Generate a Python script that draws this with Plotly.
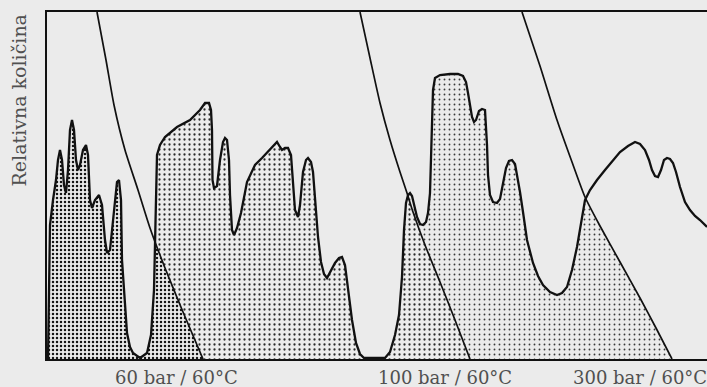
import plotly.graph_objects as go

# ---------------- data (arbitrary time units / relative amount units) ----------------
T_MAX = 660
Y_MAX = 347

sig_t = [1, 2, 3, 6, 9, 11, 13, 15, 17, 19, 21, 23, 25, 27, 29, 31, 33, 36, 39, 41, 43, 45, 48, 52,
         55, 58, 60, 63, 67, 70, 72, 74, 75, 78, 80, 83, 86, 93, 100, 104, 107, 108, 109, 110, 113,
         118, 130, 143, 153, 158, 162, 164, 165, 165.5, 167, 170, 173, 176, 178, 180, 182, 183, 185,
         187, 190, 194, 200, 208, 215, 221, 226, 230, 233, 235, 238, 241, 244, 246, 248, 251, 253,
         256, 259, 261, 264, 266, 269, 271, 274, 277, 280, 284, 288, 292, 295, 298, 301, 305, 309,
         313, 317, 338, 343, 348, 352, 355, 357, 359, 361, 363, 365, 367, 370, 373, 376, 379, 381,
         383, 384, 385, 386, 388, 393, 403, 411, 416, 419, 421, 423, 425, 427, 429, 432, 435, 438,
         439, 440, 441, 443, 446, 450, 453, 456, 459, 462, 465, 468, 471, 473, 476, 480, 486, 491,
         496, 503, 510, 515, 520, 525, 530, 534, 538, 543, 550, 558, 566, 573, 581, 588, 593, 598,
         602, 605, 608, 611, 614, 617, 620, 623, 626, 629, 633, 638, 643, 648, 653, 660]
sig_y = [0, 59, 134, 159, 179, 199, 209, 199, 174, 166, 189, 229, 239, 229, 199, 189, 194, 209, 214,
         204, 159, 151, 159, 164, 154, 119, 106, 109, 149, 177, 179, 159, 99, 49, 26, 12, 6, 1, 6,
         24, 69, 114, 169, 204, 214, 222, 232, 239, 249, 256, 256, 249, 229, 179, 171, 173, 199, 217,
         221, 219, 199, 164, 129, 124, 131, 146, 177, 194, 201, 207, 213, 217, 212, 209, 211, 211,
         204, 174, 149, 142, 154, 187, 199, 201, 197, 187, 149, 122, 97, 85, 81, 89, 96, 101, 102,
         94, 69, 39, 16, 5, 1, 1, 7, 24, 44, 82, 129, 156, 164, 166, 163, 154, 142, 135, 134, 137,
         146, 166, 199, 239, 269, 281, 284, 285, 285, 283, 277, 266, 252, 242, 237, 239, 248, 250,
         249, 234, 214, 184, 164, 157, 156, 160, 174, 191, 198, 199, 195, 179, 167, 147, 119, 96, 83,
         74, 67, 64, 66, 72, 89, 112, 137, 159, 169, 179, 189, 199, 207, 213, 217, 215, 209, 199,
         189, 183, 182, 189, 199, 201, 200, 196, 187, 172, 157, 149, 143, 139, 132]

# pressure ramps (60, 100, 300 bar)
p60_t = [50, 59, 67, 78, 91, 103, 118, 136, 156]
p60_y = [347, 299, 254, 209, 169, 131, 91, 47, 0]
p100_t = [313, 323, 333, 343, 353, 360, 366, 378, 393, 408, 423]
p100_y = [347, 301, 256, 219, 187, 166, 147, 114, 77, 39, 0]
p300_t = [475, 493, 510, 525, 538, 553, 573, 593, 609, 625]
p300_y = [347, 293, 239, 197, 162, 133, 97, 61, 31, 0]

y_title = "Relativna količina"
labels = ["60 bar / 60°C", "100 bar / 60°C", "300 bar / 60°C"]
label_t = [129, 398, 593]

# ---------------- styles ----------------
BG = '#ebebeb'
INK = '#111111'
TXT = '#505050'
FONT = 'DejaVu Serif'


def left_of(t, y):
    return [0, 0] + list(t), [0, Y_MAX] + list(y)


fig = go.Figure()

# shaded regions, drawn from the last ramp to the first so each covers the next
for (t, y), size, sol, col in [
    ((p300_t, p300_y), 5, 0.11, '#3a3a3a'),
    ((p100_t, p100_y), 5, 0.16, '#2a2a2a'),
    ((p60_t, p60_y), 4, 0.30, '#151515'),
]:
    xs, ys = left_of(t, y)
    fig.add_trace(go.Scatter(
        x=xs, y=ys, mode='none', fill='toself', fillcolor=BG,
        fillpattern=dict(shape='.', size=size, solidity=sol, fgcolor=col, bgcolor=BG,
                         fillmode='replace'),
        hoverinfo='skip', showlegend=False))

# mask everything above the signal
mx = list(sig_t) + [T_MAX + 5, T_MAX + 5, -5, -5]
my = list(sig_y) + [sig_y[-1], Y_MAX + 5, Y_MAX + 5, 0]
fig.add_trace(go.Scatter(x=mx, y=my, mode='none', fill='toself', fillcolor=BG,
                         hoverinfo='skip', showlegend=False))

# pressure ramps
for t, y in [(p60_t, p60_y), (p100_t, p100_y), (p300_t, p300_y)]:
    fig.add_trace(go.Scatter(x=t, y=y, mode='lines', line=dict(color=INK, width=1.7, shape='spline', smoothing=0.6),
                             hoverinfo='skip', showlegend=False))

# signal
fig.add_trace(go.Scatter(x=sig_t, y=sig_y, mode='lines', line=dict(color=INK, width=2.3),
                         hoverinfo='skip', showlegend=False))

for txt, t in zip(labels, label_t):
    fig.add_annotation(x=t, xref='x', y=-0.052, yref='paper', text=txt, showarrow=False,
                       xanchor='center', yanchor='middle', font=dict(family=FONT, size=18, color=TXT))

fig.add_annotation(x=-0.043, xref='paper', y=0.744, yref='paper', text=y_title, showarrow=False,
                   textangle=-90, xanchor='center', yanchor='middle',
                   font=dict(family=FONT, size=19, color=TXT))

fig.update_layout(
    width=707, height=387, margin=dict(l=47, r=0, t=12, b=28),
    paper_bgcolor=BG, plot_bgcolor=BG, hovermode=False,
    xaxis=dict(range=[0, T_MAX], showline=True, linecolor=INK, linewidth=2, mirror=True,
               showgrid=False, zeroline=False, showticklabels=False, ticks=''),
    yaxis=dict(range=[0, Y_MAX], showline=True, linecolor=INK, linewidth=2, mirror=False,
               showgrid=False, zeroline=False, showticklabels=False, ticks=''),
)

page_fix = ("document.body.style.margin='0';document.body.style.padding='0';"
            "document.body.style.overflow='hidden';document.body.style.background='" + BG + "';")
fig.write_html("out.html", config=dict(displayModeBar=False), post_script=[page_fix])
